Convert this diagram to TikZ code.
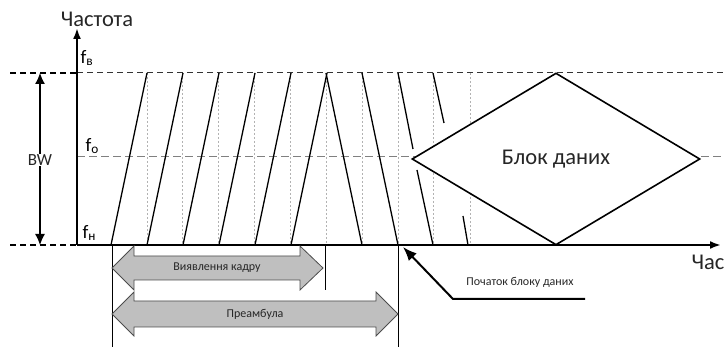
\documentclass[tikz,border=0pt]{standalone}
\usepackage{fontspec}
\setmainfont{Carlito}
\usetikzlibrary{positioning,calc}
\usetikzlibrary{arrows.meta}
\usetikzlibrary{shapes}

\begin{document}
\begin{tikzpicture}[x=1pt, y=-1pt,
  axis/.style={line width=2.4pt, -{Latex[length=11pt,width=8pt]}},
  saw/.style={line width=1.3pt},
  gridv/.style={gray!60, dash pattern=on 2pt off 2pt, line width=0.7pt},
  lvl/.style={dash pattern=on 6pt off 4pt, line width=1pt},
  blockarrow/.style={draw=black!70, fill=black!25, line width=0.8pt},
  big/.style={text=black!85, font=\fontsize{22.5}{26}\selectfont},
  small/.style={text=black!85, font=\fontsize{12}{14}\selectfont}]
  \useasboundingbox (0,0) rectangle (724,347);

  \coordinate (o)     at (77,245);
  \coordinate (y_top) at (77,28);
  \coordinate (x_end) at (721,245);

  \foreach \x in {147,182,218,254,290,326,362,398,433,470}
    \draw[gridv] (\x,73) -- (\x,245);

  \draw[lvl, line width=1.6pt] (10,73) -- (77,73);
  \draw[lvl, black!80] (77,73) -- (724,73);
  \draw[lvl, gray, dash pattern=on 8pt off 4pt] (77,157) -- (724,157);
  \draw[lvl, line width=1.6pt] (10,245) -- (77,245);

  \foreach \i in {0,...,5}
    \draw[saw] (111+36*\i,245) -- (147+36*\i,73);
  \draw[saw] (326,73) -- (362,245);
  \draw[saw] (362,73) -- (398,245);
  \draw[saw] (398,73) -- (413,149);
  \draw[saw] (417,170) -- (433,245);
  \draw[saw] (433,73) -- (444,123);
  \draw[saw] (463,216) -- (468,245);

  \node[diamond, draw, fill=white, line width=1.6pt, inner sep=0pt,
        minimum width=288pt, minimum height=172pt, big] at (556,159) (n_block) {Блок даних};

  \draw[axis] (o) -- (y_top);
  \draw[axis] (o) -- (x_end);

  \node[big] at (97,19) (n_freq) {Частота};
  \node[big, anchor=west] at (688,262) (n_time) {Час};

  \coordinate (bw_top) at (40,73);
  \coordinate (bw_bot) at (40,245);
  \draw[line width=1.2pt, {Latex[length=11pt,width=10pt]}-{Latex[length=11pt,width=10pt]}] (bw_top) -- (bw_bot);
  \node[fill=white, inner sep=1pt, text=black!85, font=\fontsize{17}{20}\selectfont] at (40,160) (n_bw) {BW};

  \node[anchor=west, font=\fontsize{19}{22}\selectfont] at (77,58)  (n_fv) {f\textsubscript{в}};
  \node[anchor=west, font=\fontsize{19}{22}\selectfont] at (82,146) (n_fo) {f\textsubscript{о}};
  \node[anchor=west, font=\fontsize{19}{22}\selectfont] at (79,233) (n_fn) {f\textsubscript{н}};

  \draw[line width=1pt] (112,245) -- (112,347);
  \draw[line width=1pt] (325,245) -- (325,290);
  \draw[line width=1pt] (398,245) -- (398,347);

  \draw[blockarrow] (112,268) -- (134,246) -- (134,256) -- (300,256) -- (300,246) -- (323,268)
    -- (300,290) -- (300,280) -- (134,280) -- (134,290) -- cycle;
  \node[small] at (217,268) (n_detect) {Виявлення кадру};

  \draw[blockarrow] (112,314) -- (134,292) -- (134,301) -- (376,301) -- (376,292) -- (398,314)
    -- (376,336) -- (376,327) -- (134,327) -- (134,336) -- cycle;
  \node[small] at (255,314) (n_pream) {Преамбула};

  \coordinate (p_end)  at (585,299);
  \coordinate (p_knee) at (453,299);
  \coordinate (p_tip)  at (403,247);
  \draw[line width=2pt, -{Latex[length=14pt,width=11pt]}] (p_end) -- (p_knee) -- (p_tip);
  \node[small] at (520,282) (n_start) {Початок блоку даних};

\end{tikzpicture}
\end{document}
